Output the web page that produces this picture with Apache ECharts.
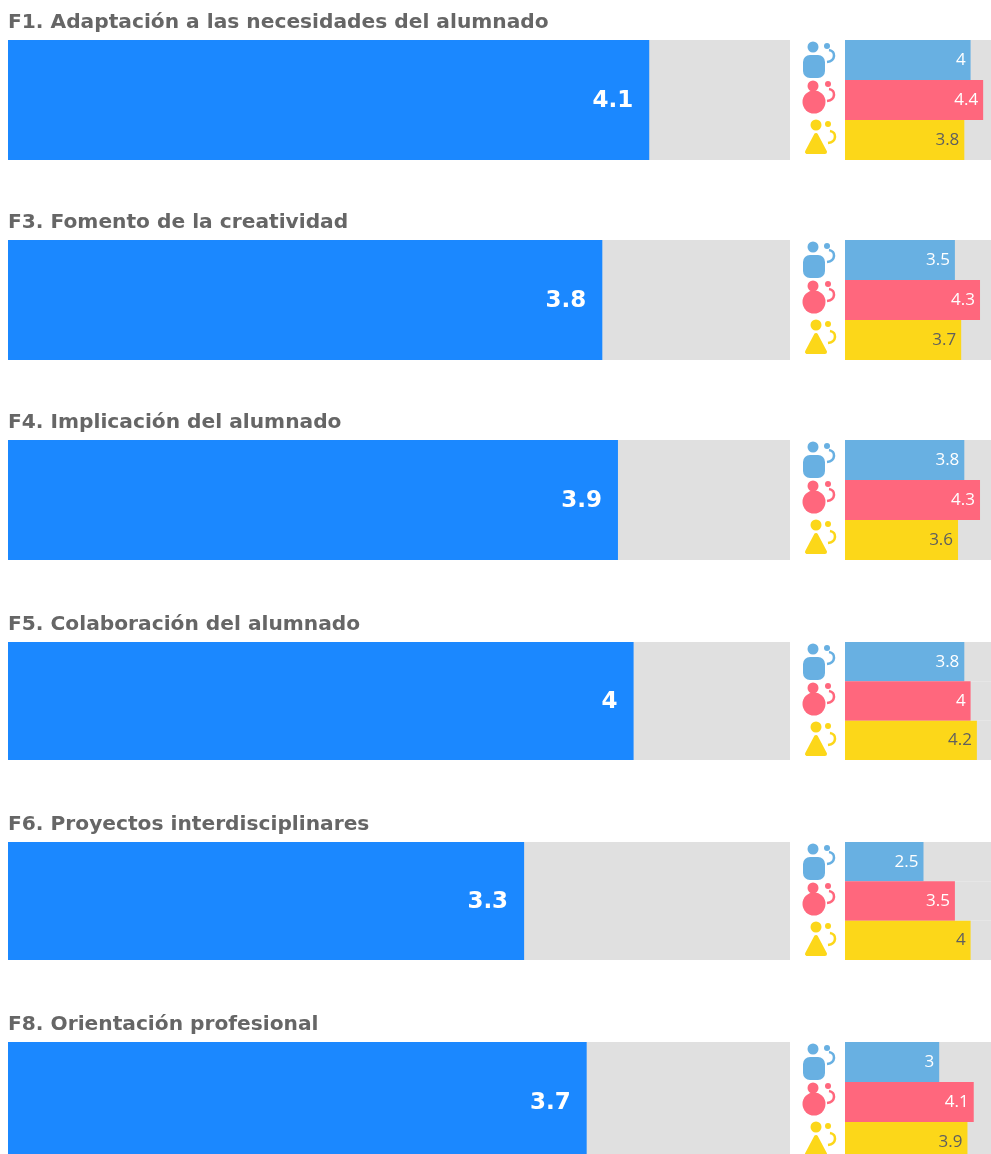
<!DOCTYPE html>
<html>
<head>
<meta charset="utf-8">
<title>Factores</title>
<style>
  html, body { margin: 0; padding: 0; background: #fff; overflow: hidden; }
  #chart { width: 991px; height: 1154px; filter: blur(0.5px); }
</style>
<script src="https://cdn.jsdelivr.net/npm/echarts@6/dist/echarts.min.js"></script>
</head>
<body>
<div id="chart"></div>
<script>
const factors = [
  'F1. Adaptación a las necesidades del alumnado',
  'F3. Fomento de la creatividad',
  'F4. Implicación del alumnado',
  'F5. Colaboración del alumnado',
  'F6. Proyectos interdisciplinares',
  'F8. Orientación profesional'
];
const overallValues = [4.1, 3.8, 3.9, 4, 3.3, 3.7];
const blueValues = [4, 3.5, 3.8, 3.8, 2.5, 3];
const pinkValues = [4.4, 4.3, 4.3, 4, 3.5, 4.1];
const yellowValues = [3.8, 3.7, 3.6, 4.2, 4, 3.9];
const groupNames = ['blue', 'pink', 'yellow'];

const MAX_VALUE = 5;
const BLUE = '#68b0e2';
const PINK = '#ff677d';
const YELLOW = '#fcd719';
const MAIN_BLUE = '#1b88ff';
const TRACK = '#e0e0e0';
const TEXT_GREY = '#666666';

// top and height of each block in pixels
const blockTops = [40, 240, 440, 642, 842, 1042];
const blockHeights = [120, 120, 120, 118, 118, 120];

const grids = [];
const xAxes = [];
const yAxes = [];
const series = [];
const titles = [];
const graphics = [];

function addAxes(gridIndex, categories, box) {
  // the split bars and the last row run past the page edge, as in the original
  grids.push(Object.assign({ containLabel: false, outerBoundsMode: 'none' }, box));
  xAxes.push({ type: 'value', gridIndex, min: 0, max: MAX_VALUE, show: false });
  yAxes.push({ type: 'category', gridIndex, data: categories, inverse: true, show: false });
}

function barSeries(gridIndex, data, labelStyle) {
  return {
    type: 'bar',
    xAxisIndex: gridIndex,
    yAxisIndex: gridIndex,
    barWidth: '100%',
    showBackground: true,
    backgroundStyle: { color: TRACK },
    silent: true,
    animation: false,
    data,
    label: Object.assign({ show: true, position: 'insideRight' }, labelStyle)
  };
}

// small pictograms next to the split bars
function personIcon(top, color, kind) {
  const children = [];
  const add = (el) => children.push(el);
  const dot = (cx, cy, r) => add({ type: 'circle', shape: { cx, cy, r }, style: { fill: color } });
  const hook = (x, y) => add({
    type: 'bezierCurve',
    shape: { x1: x, y1: y, cpx1: x + 7, cpy1: y + 1, cpx2: x + 7, cpy2: y + 11, x2: x - 2, y2: y + 12 },
    style: { stroke: color, lineWidth: 2.6, fill: null }
  });
  if (kind === 'blue') {
    dot(813, 7, 5.5);
    dot(827, 6, 3);
    hook(829, 10);
    add({ type: 'rect', shape: { x: 803, y: 15, width: 22, height: 23, r: 7 }, style: { fill: color } });
  } else if (kind === 'pink') {
    dot(813, 46, 5.5);
    dot(828, 44, 3);
    hook(829, 49);
    dot(814, 62, 11.5);
  } else {
    dot(816, 85, 5.5);
    dot(828, 84, 3);
    hook(830, 91);
    add({
      type: 'polygon',
      shape: { points: [[816, 95], [807, 112], [825, 112]] },
      style: { fill: color, stroke: color, lineWidth: 4, lineJoin: 'round' }
    });
  }
  return { type: 'group', x: 0, y: top, silent: true, children };
}

factors.forEach((name, i) => {
  const top = blockTops[i];
  const height = blockHeights[i];

  titles.push({
    text: name,
    left: 8,
    top: top - 27,
    padding: 0,
    textStyle: { fontFamily: '"DejaVu Sans"', fontWeight: 'bold', fontSize: 20.2, color: TEXT_GREY }
  });

  const mainIndex = grids.length;
  addAxes(mainIndex, [name], { left: 8, top, width: 782, height });
  series.push(barSeries(mainIndex, [{ value: overallValues[i], itemStyle: { color: MAIN_BLUE } }], {
    distance: 16,
    color: '#fff',
    fontFamily: '"DejaVu Sans"',
    fontWeight: 'bold',
    fontSize: 23,
    offset: [0, 1]
  }));

  const sideIndex = grids.length;
  addAxes(sideIndex, groupNames, { left: 845, top, width: 157, height });
  series.push(barSeries(sideIndex, [
    { value: blueValues[i], itemStyle: { color: BLUE }, label: { color: '#fff' } },
    { value: pinkValues[i], itemStyle: { color: PINK }, label: { color: '#fff' } },
    { value: yellowValues[i], itemStyle: { color: YELLOW }, label: { color: '#5f5f5f' } }
  ], {
    distance: 5,
    fontFamily: '"Open Sans"',
    fontSize: 17
  }));

  graphics.push(personIcon(top, BLUE, 'blue'));
  graphics.push(personIcon(top, PINK, 'pink'));
  graphics.push(personIcon(top, YELLOW, 'yellow'));
});

const chart = echarts.init(document.getElementById('chart'), null, { renderer: 'canvas' });
chart.setOption({
  backgroundColor: '#fff',
  animation: false,
  title: titles,
  grid: grids,
  xAxis: xAxes,
  yAxis: yAxes,
  series,
  graphic: graphics
});
</script>
</body>
</html>
